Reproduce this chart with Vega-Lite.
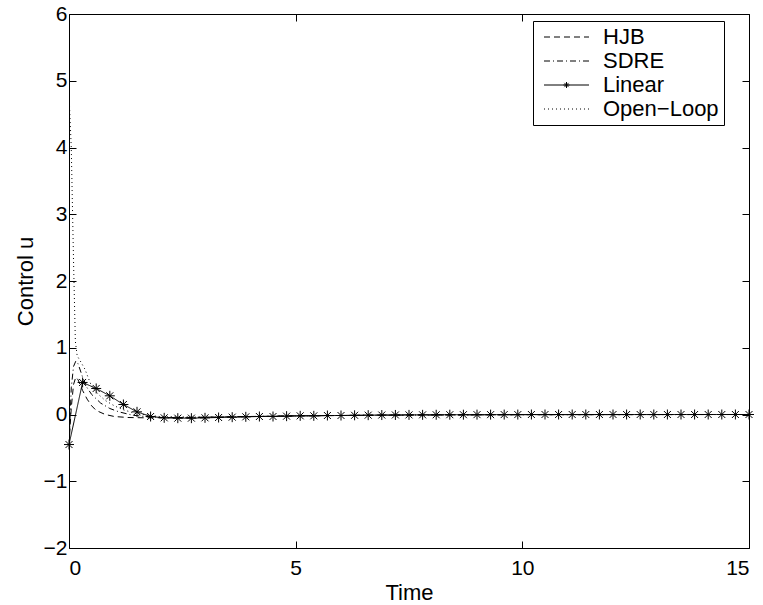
{
  "$schema": "https://vega.github.io/schema/vega-lite/v6.json",
  "width": 680,
  "height": 534,
  "autosize": {"type": "none"},
  "padding": {"left": 69, "top": 14, "right": 14, "bottom": 57},
  "background": "white",
  "config": {
    "view": {"stroke": "black", "strokeWidth": 1},
    "font": "Liberation Sans",
    "axis": {
      "domain": false,
      "grid": false,
      "tickColor": "black",
      "tickSize": -7,
      "tickWidth": 1,
      "labelColor": "black",
      "labelFont": "Liberation Sans",
      "labelFontSize": 21,
      "titleFont": "Liberation Sans",
      "titleFontSize": 22,
      "titleFontWeight": "normal",
      "titleColor": "black"
    }
  },
  "data": {
    "values": [
      {"series": "HJB", "t": 0, "u": -0.45},
      {"series": "HJB", "t": 0.05, "u": 0.1},
      {"series": "HJB", "t": 0.1, "u": 0.45},
      {"series": "HJB", "t": 0.15, "u": 0.56},
      {"series": "HJB", "t": 0.2, "u": 0.52},
      {"series": "HJB", "t": 0.3, "u": 0.36},
      {"series": "HJB", "t": 0.4, "u": 0.23},
      {"series": "HJB", "t": 0.5, "u": 0.13},
      {"series": "HJB", "t": 0.6, "u": 0.06},
      {"series": "HJB", "t": 0.8, "u": 0.0},
      {"series": "HJB", "t": 1.0, "u": -0.03},
      {"series": "HJB", "t": 1.3, "u": -0.045},
      {"series": "HJB", "t": 1.7, "u": -0.05},
      {"series": "HJB", "t": 2.5, "u": -0.045},
      {"series": "HJB", "t": 3.5, "u": -0.035},
      {"series": "HJB", "t": 5, "u": -0.02},
      {"series": "HJB", "t": 7, "u": -0.01},
      {"series": "HJB", "t": 10, "u": -0.003},
      {"series": "HJB", "t": 15, "u": 0},
      {"series": "SDRE", "t": 0, "u": -0.45},
      {"series": "SDRE", "t": 0.05, "u": 0.4},
      {"series": "SDRE", "t": 0.1, "u": 0.72},
      {"series": "SDRE", "t": 0.15, "u": 0.8},
      {"series": "SDRE", "t": 0.2, "u": 0.76},
      {"series": "SDRE", "t": 0.3, "u": 0.56},
      {"series": "SDRE", "t": 0.4, "u": 0.4},
      {"series": "SDRE", "t": 0.5, "u": 0.3},
      {"series": "SDRE", "t": 0.7, "u": 0.17},
      {"series": "SDRE", "t": 0.9, "u": 0.09},
      {"series": "SDRE", "t": 1.1, "u": 0.04},
      {"series": "SDRE", "t": 1.4, "u": -0.01},
      {"series": "SDRE", "t": 1.8, "u": -0.04},
      {"series": "SDRE", "t": 2.5, "u": -0.05},
      {"series": "SDRE", "t": 3.5, "u": -0.035},
      {"series": "SDRE", "t": 5, "u": -0.02},
      {"series": "SDRE", "t": 7, "u": -0.01},
      {"series": "SDRE", "t": 10, "u": -0.003},
      {"series": "SDRE", "t": 15, "u": 0},
      {"series": "Open−Loop", "t": 0, "u": 4.8},
      {"series": "Open−Loop", "t": 0.05, "u": 4.0},
      {"series": "Open−Loop", "t": 0.1, "u": 2.3},
      {"series": "Open−Loop", "t": 0.14, "u": 1.1},
      {"series": "Open−Loop", "t": 0.18, "u": 0.88},
      {"series": "Open−Loop", "t": 0.25, "u": 0.8},
      {"series": "Open−Loop", "t": 0.35, "u": 0.68},
      {"series": "Open−Loop", "t": 0.5, "u": 0.42},
      {"series": "Open−Loop", "t": 0.65, "u": 0.3},
      {"series": "Open−Loop", "t": 0.8, "u": 0.21},
      {"series": "Open−Loop", "t": 1.0, "u": 0.13},
      {"series": "Open−Loop", "t": 1.2, "u": 0.07},
      {"series": "Open−Loop", "t": 1.5, "u": 0.01},
      {"series": "Open−Loop", "t": 2, "u": -0.03},
      {"series": "Open−Loop", "t": 3, "u": -0.04},
      {"series": "Open−Loop", "t": 5, "u": -0.02},
      {"series": "Open−Loop", "t": 8, "u": -0.005},
      {"series": "Open−Loop", "t": 15, "u": 0},
      {"series": "Linear", "t": 0, "u": -0.45},
      {"series": "Linear", "t": 0.3, "u": 0.48},
      {"series": "Linear", "t": 0.6, "u": 0.39},
      {"series": "Linear", "t": 0.9, "u": 0.28},
      {"series": "Linear", "t": 1.2, "u": 0.15},
      {"series": "Linear", "t": 1.5, "u": 0.04},
      {"series": "Linear", "t": 1.8, "u": -0.03},
      {"series": "Linear", "t": 2.1, "u": -0.05},
      {"series": "Linear", "t": 2.4, "u": -0.055},
      {"series": "Linear", "t": 2.7, "u": -0.055},
      {"series": "Linear", "t": 3.0, "u": -0.05},
      {"series": "Linear", "t": 3.3, "u": -0.045},
      {"series": "Linear", "t": 3.6, "u": -0.04},
      {"series": "Linear", "t": 3.9, "u": -0.035},
      {"series": "Linear", "t": 4.2, "u": -0.03},
      {"series": "Linear", "t": 4.5, "u": -0.03},
      {"series": "Linear", "t": 4.8, "u": -0.025},
      {"series": "Linear", "t": 5.1, "u": -0.02},
      {"series": "Linear", "t": 5.4, "u": -0.02},
      {"series": "Linear", "t": 5.7, "u": -0.015},
      {"series": "Linear", "t": 6.0, "u": -0.015},
      {"series": "Linear", "t": 6.3, "u": -0.012},
      {"series": "Linear", "t": 6.6, "u": -0.01},
      {"series": "Linear", "t": 6.9, "u": -0.008},
      {"series": "Linear", "t": 7.2, "u": -0.007},
      {"series": "Linear", "t": 7.5, "u": -0.006},
      {"series": "Linear", "t": 7.8, "u": -0.005},
      {"series": "Linear", "t": 8.1, "u": -0.004},
      {"series": "Linear", "t": 8.4, "u": -0.003},
      {"series": "Linear", "t": 8.7, "u": -0.003},
      {"series": "Linear", "t": 9.0, "u": -0.002},
      {"series": "Linear", "t": 9.3, "u": -0.002},
      {"series": "Linear", "t": 9.6, "u": -0.001},
      {"series": "Linear", "t": 9.9, "u": -0.001},
      {"series": "Linear", "t": 10.2, "u": 0},
      {"series": "Linear", "t": 10.5, "u": 0},
      {"series": "Linear", "t": 10.8, "u": 0},
      {"series": "Linear", "t": 11.1, "u": 0},
      {"series": "Linear", "t": 11.4, "u": 0},
      {"series": "Linear", "t": 11.7, "u": 0},
      {"series": "Linear", "t": 12.0, "u": 0},
      {"series": "Linear", "t": 12.3, "u": 0},
      {"series": "Linear", "t": 12.6, "u": 0},
      {"series": "Linear", "t": 12.9, "u": 0},
      {"series": "Linear", "t": 13.2, "u": 0},
      {"series": "Linear", "t": 13.5, "u": 0},
      {"series": "Linear", "t": 13.8, "u": 0},
      {"series": "Linear", "t": 14.1, "u": 0},
      {"series": "Linear", "t": 14.4, "u": 0},
      {"series": "Linear", "t": 14.7, "u": 0},
      {"series": "Linear", "t": 15.0, "u": 0}
    ]
  },
  "layer": [
    {
      "mark": {"type": "line", "color": "black", "strokeWidth": 1, "clip": true},
      "encoding": {
        "x": {
          "field": "t", "type": "quantitative",
          "scale": {"domain": [0, 15], "nice": false, "zero": false},
          "axis": {"values": [0, 5, 10, 15], "title": "Time", "labelPadding": 16, "titlePadding": 4}
        },
        "y": {
          "field": "u", "type": "quantitative",
          "scale": {"domain": [-2, 6], "nice": false, "zero": false},
          "axis": {"values": [-2, -1, 0, 1, 2, 3, 4, 5, 6], "title": "Control u", "labelPadding": 9, "titlePadding": 6}
        },
        "strokeDash": {
          "field": "series", "type": "nominal",
          "scale": {
            "domain": ["HJB", "SDRE", "Linear", "Open−Loop"],
            "range": [[6, 4], [6, 3, 1, 3], [1, 0], [1, 3]]
          },
          "legend": {
            "orient": "none",
            "legendX": 464,
            "legendY": 7,
            "title": null,
            "labelFontSize": 22,
            "labelFont": "Liberation Sans",
            "labelColor": "black",
            "labelLimit": 0,
            "labelOffset": 43,
            "symbolSize": 400,
            "symbolStrokeWidth": 1,
            "symbolStrokeColor": "black",
            "padding": 5,
            "rowPadding": 2,
            "strokeColor": "black",
            "fillColor": "white",
            "encode": {
              "legend": {"update": {"width": {"value": 199}}},
              "symbols": {
                "update": {
                  "shape": {"signal": "datum.value === 'Linear' ? 'M-0.5,0L4,0M1.75,-0.3L1.75,0.3M1.45,0L2.05,0M1.54,-0.21L1.96,0.21M1.54,0.21L1.96,-0.21' : 'M-0.5,0L4,0'"}
                }
              }
            }
          }
        }
      }
    },
    {
      "transform": [{"filter": "datum.series === 'Linear'"}],
      "mark": {
        "type": "point",
        "shape": "M0,-1L0,1M-1,0L1,0M-0.7,-0.7L0.7,0.7M-0.7,0.7L0.7,-0.7",
        "filled": false,
        "stroke": "black",
        "strokeWidth": 1,
        "size": 100,
        "opacity": 1
      },
      "encoding": {
        "x": {
          "field": "t", "type": "quantitative",
          "axis": {"orient": "top", "values": [0, 5, 10, 15], "labels": false, "title": null}
        },
        "y": {
          "field": "u", "type": "quantitative",
          "axis": {"orient": "right", "values": [-2, -1, 0, 1, 2, 3, 4, 5, 6], "labels": false, "title": null}
        }
      }
    }
  ],
  "resolve": {"axis": {"x": "independent", "y": "independent"}}
}
